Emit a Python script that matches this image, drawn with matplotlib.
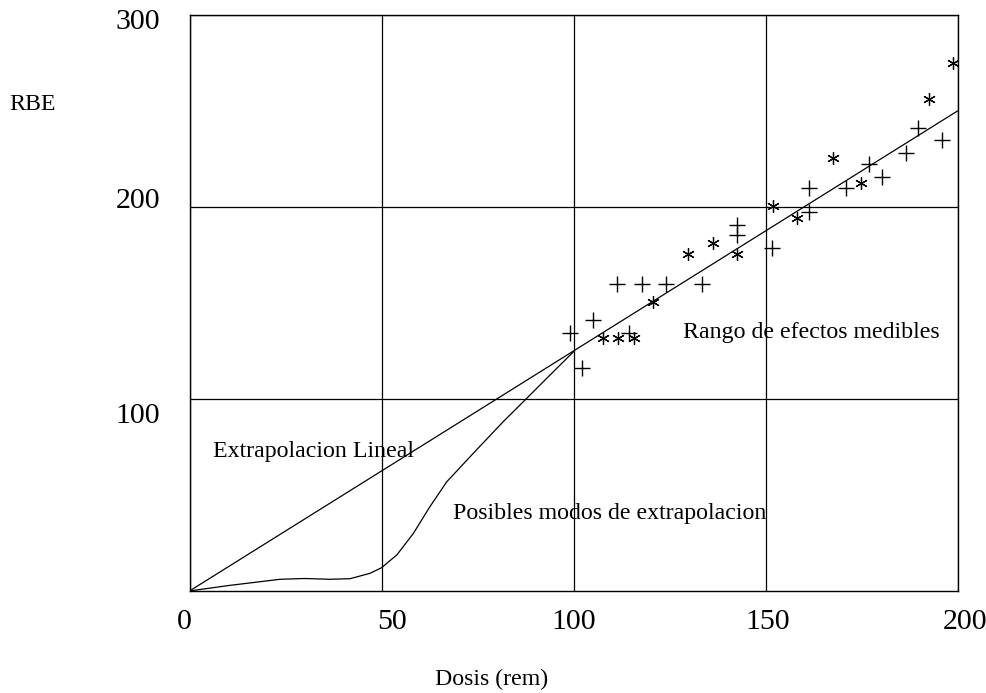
import numpy as np
import matplotlib
matplotlib.use('Agg')
import matplotlib.pyplot as plt
from matplotlib.transforms import ScaledTranslation

plt.rcParams['font.family'] = ['Liberation Serif', 'DejaVu Serif']

# lineal extrapolation (RBE = 1.25 * dose)
lin_x = [0, 200]
lin_y = [0, 250]

# other possible extrapolation, from 0 up to 100 rem
curve_x = [0, 10, 23.6, 30, 36.6, 41.8, 47.0, 50, 54, 58.3, 62.6, 67, 73.9,
           81.7, 87.8, 93.9, 100]
curve_y = [0, 2.8, 6.1, 6.5, 6.1, 6.4, 9.2, 12.1, 18.8, 30, 43.9, 56.9, 71.7,
           88.2, 100.3, 112.5, 124.6]

# measured points, "+"
plus_x = [99.1, 102.1, 105.2, 114.5, 111.4, 117.8, 124.1, 133.4, 142.5, 142.5,
          151.8, 161.4, 161.4, 171.0, 177.0, 180.3, 186.5, 189.6, 195.9]
plus_y = [134.2, 116.0, 141.1, 134.2, 159.7, 159.7, 159.7, 159.7, 190.6, 185.4,
          178.5, 197.6, 209.7, 209.7, 222.4, 215.8, 228.3, 241.0, 234.9]

# measured points, "*"
star_x = [107.8, 111.7, 115.8, 120.8, 129.9, 136.2, 142.5, 151.9, 158.1, 167.5,
          174.8, 192.5, 198.8]
star_y = [131.6, 131.6, 131.6, 150.7, 175.5, 181.4, 175.5, 200.5, 194.1, 225.4,
          212.3, 256.1, 275.2]

xticks = [0, 50, 100, 150, 200]
yticks = [100, 200, 300]
# small hand placement shifts of the tick labels in the original (pixels)
xtick_shift = [-5, 11, 0, 2, 8]
ytick_shift = [-14, 9, -4]

fig = plt.figure(figsize=(9.86, 6.93), dpi=100)
ax = fig.add_axes([0.1922, 0.1472, 0.7789, 0.8312])

ax.plot(lin_x, lin_y, color='black', lw=0.9)
ax.plot(curve_x, curve_y, color='black', lw=0.9)
ax.plot(plus_x, plus_y, ls='none', marker='+', ms=11, mew=1.0, color='black')
ax.plot(star_x, star_y, ls='none', marker=(6, 2, 0), ms=9, mew=0.9, color='black')

ax.text(6.1, 72.4, 'Extrapolacion Lineal', fontsize=17.2, va='center', ha='left')
ax.text(68.6, 40.6, 'Posibles modos de extrapolacion', fontsize=17.2, va='center', ha='left')
ax.text(128.4, 134.4, 'Rango de efectos medibles', fontsize=17.2, va='center', ha='left')

ax.set_xlim(0, 200)
ax.set_ylim(0, 300)
ax.set_xticks(xticks)
ax.set_yticks(yticks)
ax.tick_params(length=0, labelsize=21.5)
ax.tick_params(axis='x', pad=13)
ax.tick_params(axis='y', pad=21)
ax.grid(True, color='black', lw=0.9)
for s in ax.spines.values():
    s.set_linewidth(1.0)

for lab, d in zip(ax.get_xticklabels(), xtick_shift):
    lab.set_transform(lab.get_transform() + ScaledTranslation(d / 100, 0, fig.dpi_scale_trans))
for lab, d in zip(ax.get_yticklabels(), ytick_shift):
    lab.set_transform(lab.get_transform() + ScaledTranslation(0, d / 100, fig.dpi_scale_trans))

fig.text(32 / 986, 1 - 105 / 693, 'RBE', fontsize=17.2, ha='center', va='center')
fig.text(492 / 986, 1 - 679 / 693, 'Dosis (rem)', fontsize=17.2, ha='center', va='center')

fig.savefig('out.png', dpi=100)
